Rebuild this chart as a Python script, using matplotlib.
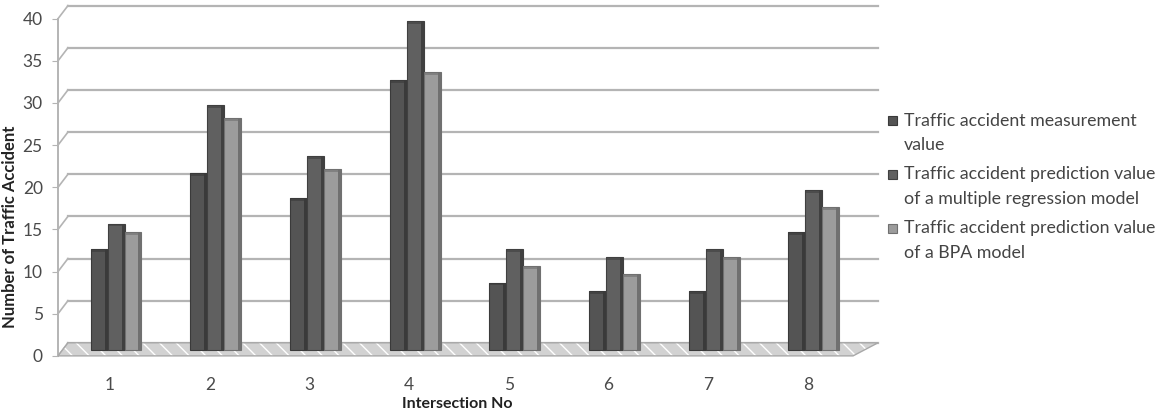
import matplotlib
matplotlib.use("Agg")
import matplotlib.pyplot as plt
from matplotlib.patches import Polygon, Rectangle
import numpy as np

# intersections and accident counts
intersections = ["1", "2", "3", "4", "5", "6", "7", "8"]
measured = [12, 21, 18, 32, 8, 7, 7, 14]
regression = [15, 29, 23, 39, 12, 11, 12, 19]
bpa = [14, 27.5, 21.5, 33, 10, 9, 11, 17]

series_names = ["Traffic accident measurement\nvalue",
                "Traffic accident prediction value\nof a multiple regression model",
                "Traffic accident prediction value\nof a BPA model"]
yticks = [0, 5, 10, 15, 20, 25, 30, 35, 40]

colors = ["#545454", "#606060", "#9c9c9c"]
side_colors = ["#3a3a3a", "#404040", "#707070"]

plt.rcParams['font.family'] = ['Lato', 'DejaVu Sans']

W, H = 1158, 412
fig = plt.figure(figsize=(W / 100, H / 100), dpi=100)
ax = fig.add_axes([0.0501, 0.1311, 0.7081, 0.8592])

x = np.arange(1, len(intersections) + 1)
xlo, xhi = 0.478, 8.703
ax.set_xlim(xlo, xhi)
ax.set_ylim(-0.95, 41.04)

# pseudo 3d depth of the back wall (data units)
dx, dy = 0.10, 0.85
grid_c = "#b4b4b4"

# back wall gridlines + little diagonal to the left wall
for v in yticks:
    ax.plot([xlo + dx, xhi], [v + dy, v + dy], color=grid_c, lw=1.6, zorder=1, clip_on=False)
    ax.plot([xlo, xlo + dx], [v - 0.7, v + dy], color=grid_c, lw=1.2, zorder=1, clip_on=False)
ax.plot([xlo, xlo], [-0.7, 40 - 0.7], color=grid_c, lw=1.4, zorder=1, clip_on=False)

# floor: light grey with white glossy streaks
floor_pts = [(xlo, -0.7), (xhi - 0.25, -0.7), (xhi, dy), (xlo + dx, dy)]
ax.add_patch(Polygon(floor_pts, closed=True, facecolor="#d2d2d2", edgecolor="white",
                     lw=0, hatch="\\\\", zorder=2))
ax.add_patch(Polygon(floor_pts, closed=True, facecolor="none", edgecolor="#a8a8a8",
                     lw=1.0, zorder=2))

w = 0.17
offsets = [-w, 0, w]
for vals, off, c, sc in zip([measured, regression, bpa], offsets, colors, side_colors):
    pos = x + 0.06 + off
    ax.bar(pos, vals, width=w, color=c, edgecolor=sc, linewidth=0.8, zorder=3)
    # darker right side face and top cap for the 3d look
    ax.bar(pos + w / 2 - 0.015, vals, width=0.03, color=sc, linewidth=0, zorder=4)
    ax.bar(pos, [0.35] * len(vals), bottom=np.array(vals) - 0.35, width=w,
           color=sc, linewidth=0, zorder=4, alpha=0.6)

ax.set_yticks([v - 0.7 for v in yticks])
ax.set_yticklabels([str(v) for v in yticks])
ax.set_xticks(x)
ax.set_xticklabels(intersections)
ax.tick_params(axis='y', length=4, color=grid_c, labelsize=12.5, labelcolor="#4a4a4a", pad=7)
ax.tick_params(axis='x', length=0, labelsize=12.5, labelcolor="#4a4a4a", pad=14)
for s in ax.spines.values():
    s.set_visible(False)

fig.text(0.009, 0.45, "Number of Traffic Accident", rotation=90, ha='center', va='center',
         fontsize=12, fontweight='bold', color="#222222")
fig.text(0.395, 0.002, "Intersection No", ha='center', va='bottom',
         fontsize=11.5, fontweight='bold', color="#222222")

# legend laid out like Excel: marker next to the first line of each entry
entry_top, entry_step, line_step = 121, 53.5, 24.5
for i, (name, c, sc) in enumerate(zip(series_names, colors, side_colors)):
    yc = entry_top + entry_step * i
    fig.add_artist(Rectangle((888 / W, 1 - (yc + 4.5) / H), 9 / W, 9 / H,
                             transform=fig.transFigure, facecolor=c, edgecolor=sc, lw=0.8))
    for j, line in enumerate(name.split("\n")):
        fig.text(904 / W, 1 - (yc + line_step * j) / H, line, ha='left', va='center',
                 fontsize=12.8, color="#444444")

fig.savefig("out.png", dpi=100)
